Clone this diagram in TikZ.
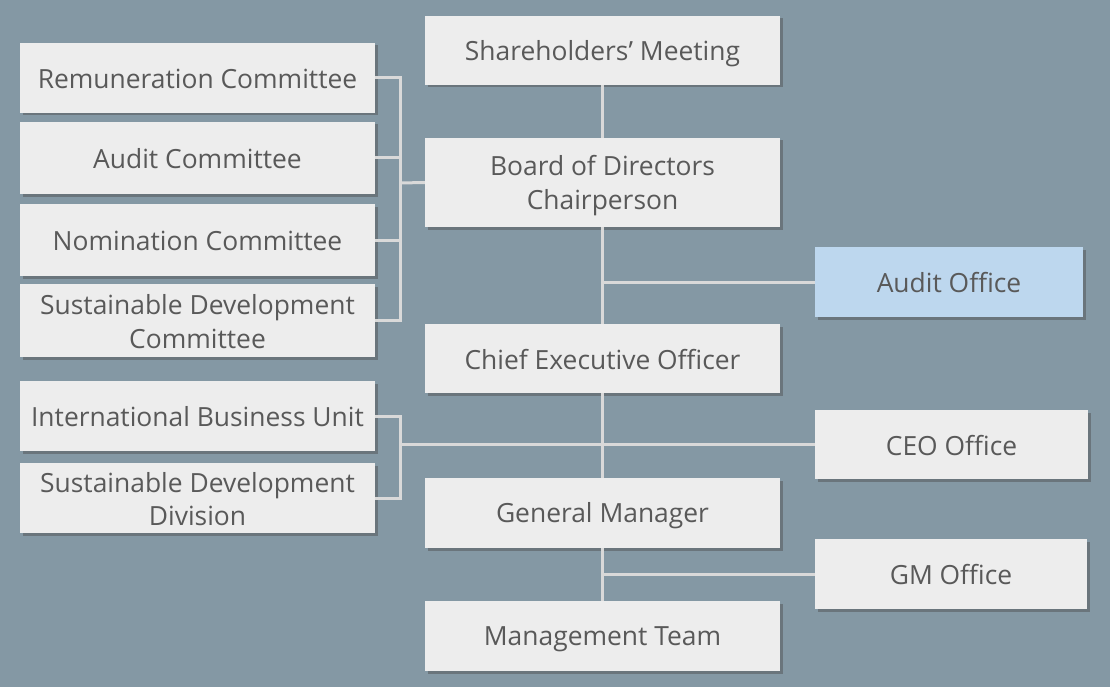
\documentclass[tikz,border=0pt]{standalone}
\usepackage{fontspec}
\setmainfont{Open Sans}
\usetikzlibrary{shadows}
\definecolor{bgc}{RGB}{132,152,164}
\definecolor{boxc}{RGB}{237,237,237}
\definecolor{bluec}{RGB}{189,215,238}
\definecolor{linec}{RGB}{217,217,217}
\definecolor{txtc}{RGB}{89,89,89}
\newcommand{\st}{\rule[-4.2pt]{0pt}{30.2pt}}
\begin{document}
\begin{tikzpicture}[x=1pt,y=-1pt,
  box/.style={rectangle, fill=boxc, inner sep=0pt, align=center, text=txtc,
    font=\fontsize{26.4}{33.5}\selectfont,
    drop shadow={shadow xshift=2.5pt, shadow yshift=-2.5pt, opacity=0.45, fill=black!70}},
  conn/.style={draw=linec, line width=3pt}]
\fill[bgc] (0,0) rectangle (1110,687);
\useasboundingbox (0,0) rectangle (1110,687);
% centre column
\node[box, minimum width=355pt, minimum height=69pt] (sh) at (602.5,50.5) {\st Shareholders’ Meeting};
\node[box, minimum width=355pt, minimum height=89pt] (bd) at (602.5,182.5) {\st Board of Directors\\\st Chairperson};
\node[box, minimum width=355pt, minimum height=69pt] (ceo) at (602.5,358.5) {\st Chief Executive Officer};
\node[box, minimum width=355pt, minimum height=70pt] (gm) at (602.5,513) {\st General Manager};
\node[box, minimum width=355pt, minimum height=70pt] (mt) at (602.5,636) {\st Management Team};
% right column
\node[box, fill=bluec, minimum width=268pt, minimum height=70pt] (ao) at (949,282) {\st Audit Office};
\node[box, minimum width=273pt, minimum height=69pt] (co) at (951.5,444.5) {\st CEO Office};
\node[box, minimum width=272pt, minimum height=70pt] (go) at (951,574) {\st GM Office};
% left column
\node[box, minimum width=355pt, minimum height=70pt] (rc) at (197.5,78) {\st Remuneration Committee};
\node[box, minimum width=355pt, minimum height=72pt] (ac) at (197.5,158) {\st Audit Committee};
\node[box, minimum width=355pt, minimum height=72pt] (nc) at (197.5,240) {\st Nomination Committee};
\node[box, minimum width=355pt, minimum height=73pt] (sdc) at (197.5,320.5) {\st Sustainable Development\\\st Committee};
\node[box, minimum width=355pt, minimum height=70pt] (ibu) at (197.5,416) {\st International Business Unit};
\node[box, minimum width=355pt, minimum height=70pt] (sdd) at (197.5,498) {\st Sustainable Development\\\st Division};
% junction coordinates
\coordinate (jb) at (400,183);
\coordinate (ja) at (602.5,282);
\coordinate (jc) at (400,444.5);
\coordinate (jg) at (602.5,574);
% connectors
\draw[conn] (sh) -- (bd);
\draw[conn] (bd) -- (ceo);
\draw[conn] (ceo) -- (gm);
\draw[conn] (gm) -- (mt);
\draw[conn] (ja) -- (ao.west);
\draw[conn] (jg) -- (go.west);
\draw[conn] (rc.east) -| (jb) |- (sdc.east);
\draw[conn] (ac.east) -- (ac.east -| jb);
\draw[conn] (nc.east) -- (nc.east -| jb);
\draw[conn] (jb) -- (bd.west);
\draw[conn] (ibu.east) -| (jc) |- (sdd.east);
\draw[conn] (jc) -- (co.west);
\end{tikzpicture}
\end{document}
